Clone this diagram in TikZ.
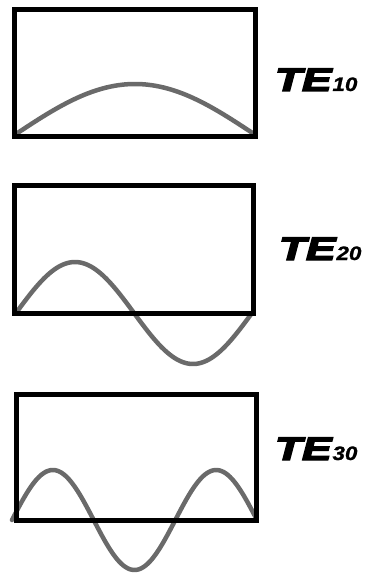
\documentclass[tikz,border=0pt]{standalone}
\usepackage{fontspec}
\usepackage{graphicx}
\newfontfamily\labfont[BoldItalicFeatures={FakeBold=4}]{Liberation Sans}
\newfontfamily\subfont[BoldItalicFeatures={FakeBold=1}]{Liberation Sans}
\definecolor{wavegray}{HTML}{6A6A6A}
\tikzset{
  boxline/.style={draw=black, line width=5pt, line join=miter},
  wave/.style={draw=wavegray, line width=4.5pt, line cap=round, line join=round},
  modelabel/.style={anchor=base west, inner sep=0pt, outer sep=0pt}
}
\newcommand{\modetext}[1]{%
  {\labfont\bfseries\itshape\fontsize{32.5}{34}\selectfont\scalebox{1.36}[1]{TE}}%
  \hspace{1pt}%
  {\subfont\bfseries\itshape\fontsize{19.5}{20}\selectfont\scalebox{1.15}[1]{#1}}}
\begin{document}
\begin{tikzpicture}[x=1pt,y=-1pt]
\useasboundingbox (0,0) rectangle (364,575);
% TE10
\draw[wave] plot[domain=0:1, samples=80, smooth] ({16+238*\x}, {134-50*sin(180*\x)});
\draw[boxline] (14.5,9.5) rectangle (255.5,136.5);
\node[modelabel] (te10) at (275,91) {\modetext{10}};
% TE20
\draw[wave] plot[domain=0:1, samples=100, smooth] ({16+236*\x}, {313-51*sin(360*\x)});
\draw[boxline] (14.5,185.5) rectangle (253.5,313);
\node[modelabel] (te20) at (279,260) {\modetext{20}};
% TE30
\draw[wave] plot[domain=0:1, samples=120, smooth] ({12+245*\x}, {520-50*sin(540*\x)});
\draw[boxline] (16.5,394.5) rectangle (256.5,520.5);
\node[modelabel] (te30) at (275,460) {\modetext{30}};
\end{tikzpicture}
\end{document}
